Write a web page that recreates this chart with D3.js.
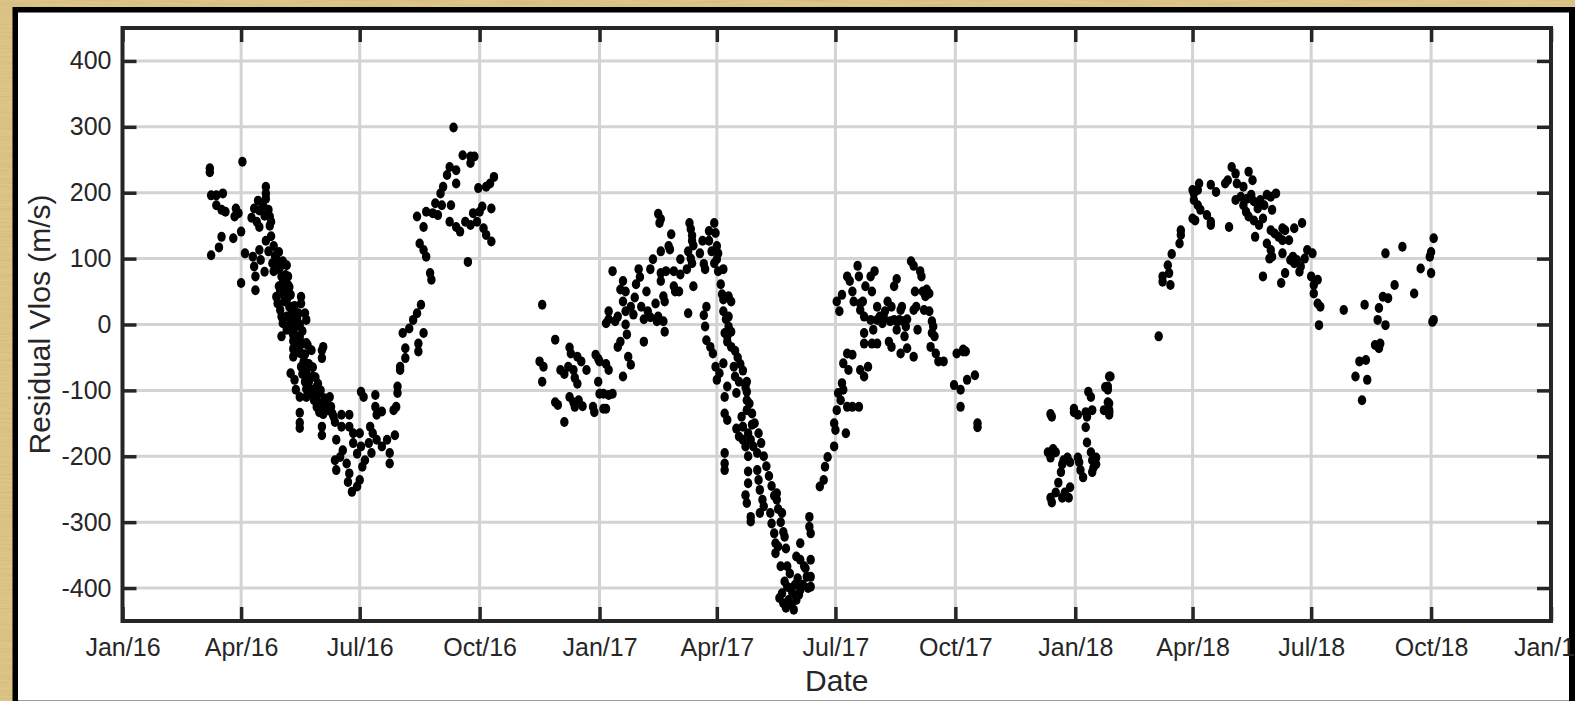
<!DOCTYPE html>
<html>
<head>
<meta charset="utf-8">
<script src="https://cdn.jsdelivr.net/npm/d3@7"></script>
<style>
  html, body { margin: 0; padding: 0; background: #dcc283; overflow: hidden; }
  svg { display: block; }
</style>
</head>
<body>
<svg id="chart" width="1575" height="701"></svg>
<script>
// Residual line-of-sight velocity observations, [days since 1 Jan 2016, residual Vlos in m/s]

const campaign2016 = [
  [67,237],[67,231],[92,247],[68,196],[72,196],[77,199],[72,181],[76,174],[79,171],
  [87,176],[89,169],[86,164],[101,176],[110,209],[110,199],[110,191],[112,174],[113,164],[114,156],
  [99,162],[103,156],[105,148],[76,133],[85,131],[91,141],[68,105],[74,117],[91,63],[102,52],
  [94,108],[100,103],[101,88],[102,73],[105,113],[106,98],[109,80],
  [121,88],[126,90],[127,73],[123,63],[128,57],[121,52],[118,42],[127,42],
  [119,32],[121,22],[122,12],[123,2],[126,-8],[122,-18],[130,27],[131,12],
  [137,42],[137,32],[140,17],[141,7],[135,17],[131,-16],[135,-24],[138,-29],[142,-31],[154,-34],
  [104,188],[105,173],[108,180],[109,165],[113,150],[114,134],[116,119],[117,104],[119,96],[120,84],
  [122,73],[125,50],[126,38],[128,27],[130,20],[131,8],[133,-3],[134,-18],[136,-31],[137,-44],
  [139,-56],[140,-69],[142,-79],[143,-87],[145,-99],[147,-105],[148,-115],[150,-118],[151,-125],
  [153,-130],[154,-136],[110,127],[112,111],[115,93],[116,81],[120,58],[121,47],[124,35],[126,12],
  [129,2],[130,-11],[133,-29],[135,-41],[137,-64],[138,-75],[140,-87],[142,-96],[144,-105],
  [147,-115],[149,-125],[151,-133],
  [118,100],[120,110],[123,96],[125,75],[127,60],[129,45],[132,28],[134,10],[136,0],[138,-10],
  [140,-45],[143,-60],[146,-65],[148,-80],[150,-90],[152,-100],[155,-112],[157,-118],[159,-128],
  [161,-135],[163,-148],
  [131,-13],[131,-25],[131,-37],[131,-49],[136,-19],[136,-31],[136,-43],[141,-28],
  [145,-39],[153,-39],[153,-51],[129,-74],[132,-84],[133,-99],
  [136,-110],[136,-134],[136,-149],[136,-157],[141,-59],[141,-72],[141,-85],[141,-98],[141,-110],
  [146,-79],[149,-94],[151,-104],[154,-120],[157,-130],[160,-125],[159,-110],[162,-140],
  [153,-155],[153,-168],[168,-137],[168,-155],[174,-137],[174,-155],[177,-165],[177,-180],[182,-165],
  [164,-175],[163,-206],[164,-221],[167,-201],[169,-191],[172,-211],[174,-226],[173,-239],[176,-254],
  [180,-246],[182,-236],[184,-216],[180,-196],[183,-185],[186,-206],
  [183,-102],[185,-110],[194,-107],[194,-125],[195,-137],[199,-132],
  [190,-155],[192,-165],[189,-180],[191,-195],[195,-175],[199,-185],[203,-175],[205,-195],[205,-211],[209,-168],
  [208,-130],[210,-125],[211,-104],[211,-94],[213,-69],[213,-64],
  [217,-36],[217,-51],[215,-13],[220,-6],[223,7],[226,17],[229,30],[231,-13],[227,-29],[227,-41],
  [226,164],[231,148],[228,123],[231,113],[233,103],[236,78],[237,68],
  [233,171],[238,169],[242,166],[240,184],[244,199],[246,209],[249,227],[251,239],
  [256,234],[256,214],[261,257],[267,255],[270,255],[267,245],
  [251,156],[256,148],[259,141],[263,156],[267,151],[265,95],[245,181],[252,181],
  [269,169],[274,171],[276,179],[273,207],[279,209],[283,176],[285,224],[282,214],
  [272,156],[277,146],[279,136],[283,126],[254,299]
];

const campaign2017 = [
  [320,-56],[323,-64],[322,-87],[322,30],
  [332,-23],[332,-118],[334,-122],[336,-69],[339,-75],[339,-148],
  [343,-35],[344,-44],[342,-64],[346,-69],[347,-81],[349,-90],
  [343,-110],[346,-118],[347,-125],[349,-49],[352,-56],
  [350,-115],[353,-124],[356,-69],[361,-125],[362,-133],
  [363,-46],[365,-52],[366,-56],[365,-87],[366,-105],[369,-105],[369,-128],[371,-128],[373,-107],[376,-105],
  [371,2],[373,8],[373,20],[371,-60],[373,-69],
  [376,81],[378,5],[380,12],[380,-34],[382,-26],[382,53],[384,66],[384,35],[386,20],[386,0],[387,-15],[384,-79],
  [388,-49],[390,-61],[386,50],[390,27],[392,15],[393,41],[394,61],[396,84],[397,72],[398,27],[400,8],[400,-26],
  [402,50],[403,20],[405,11],[405,84],[407,99],[409,32],[410,5],[411,12],[413,78],[413,66],[413,111],
  [415,43],[416,35],[415,5],[416,-11],[419,119],[420,114],[421,137],[423,58],[424,50],[427,50],[428,76],[428,99],
  [433,84],[434,111],[437,127],[438,58],[411,168],[413,160],[412,154],[417,81],[423,81],
  [434,17],[435,154],[436,145],[437,135],[438,120],[436,100],[437,93],
  [443,108],[445,127],[446,92],[447,84],[450,142],[450,127],[452,111],[454,93],[448,27],
  [454,154],[455,139],[456,119],[457,108],[456,99],[457,81],[459,61],[460,46],[461,38],[461,20],[463,8],[461,84],
  [465,43],[467,35],[465,-3],[467,-11],[464,-26],[467,-34],
  [446,14],[447,-3],[448,-24],[451,-34],[453,-44],[455,-64],[456,-84],[458,-74],[461,-59],
  [465,12],[462,-13],[464,-18],[464,-94],[462,-110],[462,-135],[464,-145],
  [462,-195],[462,-211],[462,-221],
  [469,-64],[470,-79],[473,-87],[471,-104],[479,-87],[479,-102],[479,-115],[479,-130],
  [471,-158],[473,-170],[475,-140],[476,-155],[476,-175],[478,-185],
  [480,-165],[482,-175],[483,-152],[484,-185],[487,-195],[480,-200],[480,-223],[480,-241],[478,-259],[479,-271],[482,-292],[482,-299],
  [487,-221],[488,-236],[489,-251],[491,-266],[492,-276],[489,-286],
  [470,-40],[472,-50],[474,-60],[476,-70],[478,-95],[481,-120],[483,-135],[485,-150],[488,-165],[490,-180],
  [492,-200],[494,-215],[496,-230],[498,-245],[500,-260],[503,-280],[505,-300],[507,-315],[509,-340],
  [497,-286],[498,-302],[500,-317],[501,-332],[501,-347],[503,-337],[502,-256],[502,-266],[506,-286],[508,-322],
  [505,-367],[506,-408],[507,-423],[510,-398],[511,-418],[514,-408],[515,-433],[517,-418],[520,-403],[520,-357],
  [523,-367],[525,-383],[528,-357],[528,-398],[528,-383],[517,-352],[520,-332],[512,-378],[510,-367],
  [508,-390],[512,-400],[513,-425],[516,-395],[518,-385],[519,-410],[522,-395],[524,-370],[526,-400],[504,-415],[509,-430],
  [527,-292],[527,-307],[528,-317],
  [535,-246],[538,-236],[539,-216],[541,-201],[546,-185],[547,-160],[546,-150],[548,-130],[551,-115],[549,-104],
  [552,-89],[553,-99],[556,-125],[560,-125],[565,-125],[555,-165],
  [556,-44],[560,-46],[553,-59],[557,-69],[566,-69],[572,-64],[569,-79],[575,-29],[579,-29],[569,-13],[569,-29],
  [566,22],[566,32],[574,7],[576,-8],[579,7],[583,2],[584,12],[588,-26],[592,7],[590,27],[594,-8],[596,7],[597,22],
  [601,-3],[597,-44],[602,-36],[607,22],[607,-49],[610,-8],[615,22],[621,-13],[620,-34],[624,-44],[626,-56],[630,-56],
  [640,-44],[647,-41],[638,-92],[643,-99],[643,-125],[648,-84],[654,-77],[656,-150],[656,-156],
  [548,35],[550,20],[552,45],[556,73],[558,66],[560,50],[561,35],[564,89],[565,73],[568,35],[569,12],[570,58],
  [574,73],[575,50],[577,81],[579,27],[581,12],[583,8],[585,20],[587,35],[589,5],[590,-34],[592,58],[594,69],
  [595,5],[598,27],[599,5],[600,-18],[602,8],[605,96],[607,89],[608,50],[609,27],[612,81],[613,73],[614,50],
  [616,43],[617,53],[619,47],[619,20],[621,5],[622,-3],[623,-18],[645,-38],[645,-41]
];

const campaign2018 = [
  [712,-136],[713,-140],[710,-194],[712,-202],[714,-189],[716,-194],[712,-263],[713,-270],[716,-255],[718,-240],
  [720,-224],[721,-212],[722,-206],[721,-263],[723,-255],[725,-202],[727,-209],[727,-247],[726,-263],[730,-128],
  [730,-133],[733,-137],[733,-202],[734,-209],[735,-221],[737,-232],[739,-133],[740,-140],[739,-156],[740,-179],
  [741,-102],[743,-110],[743,-194],[744,-206],[744,-224],[745,-217],[744,-130],[747,-202],[747,-212],[754,-95],
  [756,-99],[756,-118],[757,-133],[757,-79],[753,-130],[758,-79],[756,-94],[757,-120],[757,-130],[757,-137],
  [795,-18],
  [798,73],[798,65],[802,90],[803,78],[804,60],[805,107],[811,123],[812,143],[812,136],
  [821,204],[822,199],[825,204],[826,214],[822,189],[825,181],[827,174],[821,161],[823,158],[832,166],[835,156],[835,151],
  [835,212],[839,201],[848,219],[846,214],[849,148],[851,239],[854,229],[855,214],[854,189],[860,209],[864,232],[867,219],
  [858,194],[860,181],[863,191],[866,197],[868,187],[871,176],[873,189],[876,181],[862,171],[864,164],[868,158],
  [872,151],[875,161],[878,197],[881,194],[885,199],[882,174],
  [869,133],[878,123],[881,143],[884,138],[890,146],[892,143],[899,146],[905,154],[887,133],[890,128],[895,128],
  [881,113],[882,103],[890,108],[880,100],
  [898,103],[899,93],[901,98],[904,88],[907,100],[909,113],[913,108],[903,80],[892,78],[889,63],[875,73],[896,98],
  [912,73],[914,60],[917,68],[914,47],[917,32],[919,27],[918,-1],
  [937,22],[953,30],
  [949,-56],[954,-54],[946,-79],[955,-84],[951,-115],
  [964,25],[963,7],[969,-1],[961,-31],[965,-29],[964,-36],
  [967,42],[971,40],[969,108],[976,60],[982,118],[991,47],[996,85],
  [1003,103],[1004,110],[1004,78],[1006,131],[1006,7],[1005,4]
];

const xTickDates = ["2016-01-01","2016-04-01","2016-07-01","2016-10-01",
                    "2017-01-01","2017-04-01","2017-07-01","2017-10-01",
                    "2018-01-01","2018-04-01","2018-07-01","2018-10-01","2019-01-01"];
const yTicks = [-400, -300, -200, -100, 0, 100, 200, 300, 400];
const xLabel = "Date";
const yLabel = "Residual Vlos (m/s)";

const W = 1575, H = 701;
const plot = { left: 122.5, right: 1551, top: 28, bottom: 621 };
const ink = "#262626";
const font = "'Liberation Sans', Arial, Helvetica, sans-serif";

const epoch = Date.UTC(2016, 0, 1);
const dayToDate = d => new Date(epoch + d * 86400000);
const tickDates = xTickDates.map(s => new Date(s + "T00:00:00Z"));

const x = d3.scaleUtc()
  .domain([tickDates[0], tickDates[tickDates.length - 1]])
  .range([plot.left, plot.right]);
const y = d3.scaleLinear().domain([-450, 450]).range([plot.bottom, plot.top]);

const svg = d3.select("#chart");
const defs = svg.append("defs");

// parchment texture around the framed panel
const paper = defs.append("filter").attr("id", "paper").attr("x", 0).attr("y", 0).attr("width", "100%").attr("height", "100%");
paper.append("feTurbulence").attr("type", "fractalNoise").attr("baseFrequency", "0.02 0.5").attr("numOctaves", 3).attr("seed", 7);
paper.append("feColorMatrix").attr("type", "matrix")
  .attr("values", "0 0 0 0 0.55  0 0 0 0 0.42  0 0 0 0 0.20  0.9 0 0 0 -0.3");

svg.append("rect").attr("width", W).attr("height", H).attr("fill", "#dfc687");
svg.append("rect").attr("width", W).attr("height", H).attr("filter", "url(#paper)");

// black frame and white panel
svg.append("rect").attr("x", 12.5).attr("y", 7).attr("width", W - 12.5).attr("height", H).attr("fill", "#000");
svg.append("rect").attr("x", 18).attr("y", 12.5).attr("width", 1569 - 18).attr("height", H).attr("fill", "#fff");
svg.append("line").attr("x1", 18).attr("x2", 1569).attr("y1", 700.5).attr("y2", 700.5)
  .attr("stroke", "#9a9a9a").attr("stroke-width", 1);

// grid
const grid = svg.append("g");
grid.selectAll("line.gx").data(tickDates.slice(1, -1)).join("line")
  .attr("x1", d => x(d)).attr("x2", d => x(d))
  .attr("y1", plot.top).attr("y2", plot.bottom)
  .attr("stroke", "#d3d3d3").attr("stroke-width", 3);
grid.selectAll("line.gy").data(yTicks).join("line")
  .attr("x1", plot.left).attr("x2", plot.right)
  .attr("y1", d => y(d)).attr("y2", d => y(d))
  .attr("stroke", "#d3d3d3").attr("stroke-width", 3);

// observations (markers slightly taller than wide)
const allObs = [...campaign2016, ...campaign2017, ...campaign2018];
svg.append("g").selectAll("ellipse").data(allObs).join("ellipse")
  .attr("cx", d => x(dayToDate(d[0])))
  .attr("cy", d => y(d[1]))
  .attr("rx", 4.2)
  .attr("ry", 5)
  .attr("fill", "#000");

// axes (ticks pointing inward on all four sides)
const tickLen = 14;
const fmt = d3.utcFormat("%b/%y");

function styleAxis(g) {
  g.select(".domain").remove();
  g.selectAll(".tick line").attr("stroke", ink).attr("stroke-width", 3.5);
  g.selectAll(".tick text").attr("fill", ink).style("font-family", font).style("font-size", "25px");
}

svg.append("g").attr("transform", `translate(0,${plot.bottom})`)
  .call(d3.axisBottom(x).tickValues(tickDates).tickFormat(fmt).tickSizeInner(-tickLen).tickSizeOuter(0).tickPadding(17))
  .call(styleAxis);
svg.append("g").attr("transform", `translate(0,${plot.top})`)
  .call(d3.axisTop(x).tickValues(tickDates).tickFormat("").tickSizeInner(-tickLen).tickSizeOuter(0))
  .call(styleAxis);
svg.append("g").attr("transform", `translate(${plot.left},0)`)
  .call(d3.axisLeft(y).tickValues(yTicks).tickFormat(d => String(d)).tickSizeInner(-tickLen).tickSizeOuter(0).tickPadding(11))
  .call(styleAxis);
svg.append("g").attr("transform", `translate(${plot.right},0)`)
  .call(d3.axisRight(y).tickValues(yTicks).tickFormat("").tickSizeInner(-tickLen).tickSizeOuter(0))
  .call(styleAxis);

// axes box
svg.append("rect")
  .attr("x", plot.left).attr("y", plot.top)
  .attr("width", plot.right - plot.left).attr("height", plot.bottom - plot.top)
  .attr("fill", "none").attr("stroke", ink).attr("stroke-width", 4);

// axis titles
svg.append("text")
  .attr("x", (plot.left + plot.right) / 2).attr("y", 691)
  .attr("text-anchor", "middle").attr("fill", ink)
  .style("font-family", font).style("font-size", "30px")
  .text(xLabel);
svg.append("text")
  .attr("transform", `translate(50,${(plot.top + plot.bottom) / 2}) rotate(-90)`)
  .attr("text-anchor", "middle").attr("fill", ink)
  .style("font-family", font).style("font-size", "30px")
  .text(yLabel);
</script>
</body>
</html>
